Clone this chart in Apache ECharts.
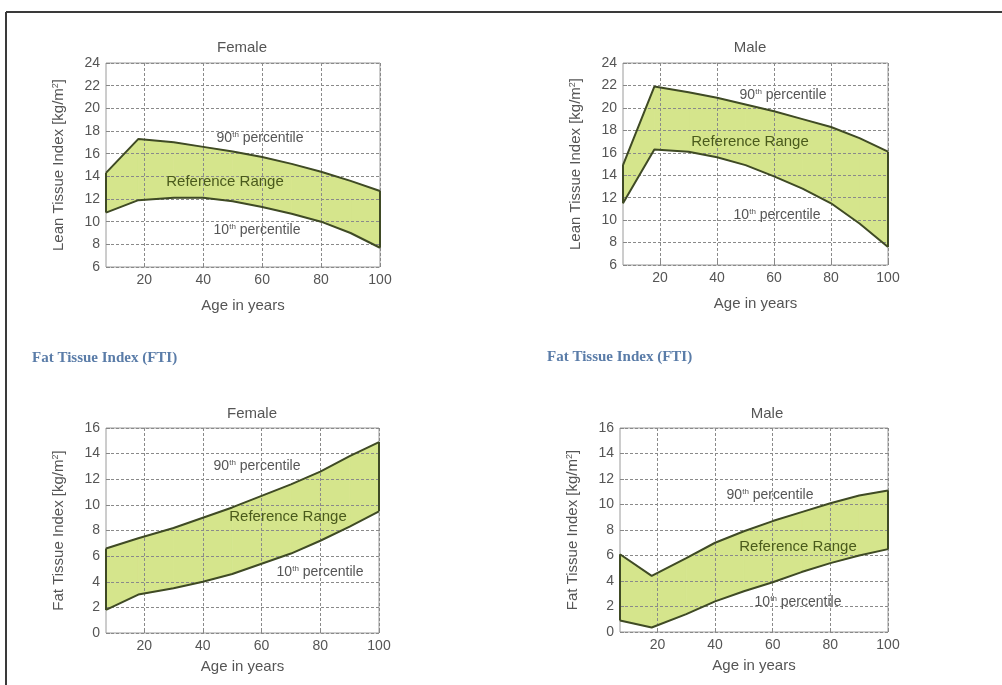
<!DOCTYPE html>
<html>
<head>
<meta charset="utf-8">
<script src="https://cdn.jsdelivr.net/npm/echarts@6/dist/echarts.min.js"></script>
<style>
  html, body { margin: 0; padding: 0; background: #fff; }
  #main { width: 1002px; height: 685px; }
</style>
</head>
<body>
<div id="main"></div>
<script>
// ages (years)
var ages = [7, 18, 30, 40, 50, 60, 70, 80, 90, 100];
var xTicks = [20, 40, 60, 80, 100];

// Lean Tissue Index, kg/m2
var ltiFemaleP90 = [14.3, 17.3, 17.0, 16.6, 16.2, 15.7, 15.1, 14.4, 13.6, 12.7];
var ltiFemaleP10 = [10.8, 11.9, 12.1, 12.1, 11.8, 11.3, 10.7, 10.0, 9.0, 7.7];
var ltiMaleP90 = [14.9, 21.9, 21.4, 20.9, 20.3, 19.7, 19.0, 18.3, 17.3, 16.1];
var ltiMaleP10 = [11.5, 16.3, 16.1, 15.6, 14.9, 13.9, 12.8, 11.5, 9.7, 7.6];

// Fat Tissue Index, kg/m2
var ftiFemaleP90 = [6.6, 7.4, 8.2, 9.0, 9.8, 10.7, 11.6, 12.6, 13.8, 14.9];
var ftiFemaleP10 = [1.8, 3.0, 3.5, 4.0, 4.6, 5.4, 6.2, 7.2, 8.3, 9.5];
var ftiMaleP90 = [6.1, 4.4, 5.8, 7.0, 7.9, 8.7, 9.4, 10.1, 10.7, 11.1];
var ftiMaleP10 = [0.9, 0.35, 1.4, 2.4, 3.2, 3.9, 4.7, 5.4, 6.0, 6.5];

var fillColor = '#d5e58c';
var edgeColor = '#3f4a25';
var txtColor = '#555';
var font = 'Arial, "Liberation Sans", sans-serif';

var panels = [
  { title: 'Female', p90: ltiFemaleP90, p10: ltiFemaleP10, yMin: 6, yMax: 24, xGap: 31,
    yName: 'Lean Tissue Index [kg/m{s|2}]', grid: { left: 106, top: 63, width: 274, height: 204 } },
  { title: 'Male', p90: ltiMaleP90, p10: ltiMaleP10, yMin: 6, yMax: 24, xGap: 31,
    yName: 'Lean Tissue Index [kg/m{s|2}]', grid: { left: 623, top: 63, width: 265, height: 202 } },
  { title: 'Female', p90: ftiFemaleP90, p10: ftiFemaleP10, yMin: 0, yMax: 16, xGap: 26,
    yName: 'Fat Tissue Index [kg/m{s|2}]', grid: { left: 106, top: 428, width: 273, height: 205 } },
  { title: 'Male', p90: ftiMaleP90, p10: ftiMaleP10, yMin: 0, yMax: 16, xGap: 26,
    yName: 'Fat Tissue Index [kg/m{s|2}]', grid: { left: 620, top: 428, width: 268, height: 204 } }
];

function pairs(xs, ys) {
  return xs.map(function (x, i) { return [x, ys[i]]; });
}

// one row per segment of the band: [x0, lo0, hi0, x1, lo1, hi1]
function segments(xs, lo, hi) {
  var out = [];
  for (var i = 0; i < xs.length - 1; i++) {
    out.push([xs[i], lo[i], hi[i], xs[i + 1], lo[i + 1], hi[i + 1]]);
  }
  return out;
}

function renderBand(params, api) {
  var a = api.coord([api.value(0), api.value(2)]);
  var b = api.coord([api.value(3), api.value(5)]);
  var c = api.coord([api.value(3), api.value(4)]);
  var d = api.coord([api.value(0), api.value(1)]);
  return {
    type: 'polygon',
    shape: { points: [a, b, c, d] },
    style: { fill: fillColor, stroke: fillColor, lineWidth: 0.8 }
  };
}

var grids = [], xAxes = [], yAxes = [], series = [];
var gridLine = { show: true, lineStyle: { color: '#8a8a8a', type: [3, 2], width: 1 } };

panels.forEach(function (p, k) {
  grids.push(Object.assign({ show: true, borderColor: '#9a9a9a', borderWidth: 1, backgroundColor: 'transparent' }, p.grid));
  xAxes.push({
    gridIndex: k, type: 'value', min: 7, max: 100, z: 3,
    name: 'Age in years', nameLocation: 'middle', nameGap: p.xGap,
    nameTextStyle: { color: txtColor, fontSize: 15, fontFamily: font },
    axisLine: { show: false },
    axisTick: { show: true, inside: true, length: 4, lineStyle: { color: '#888' }, customValues: xTicks },
    axisLabel: { color: txtColor, fontSize: 14, fontFamily: font, margin: 6, customValues: xTicks },
    splitLine: gridLine
  });
  yAxes.push({
    gridIndex: k, type: 'value', min: p.yMin, max: p.yMax, interval: 2, z: 3,
    name: p.yName, nameLocation: 'middle', nameGap: 39,
    nameTextStyle: { color: txtColor, fontSize: 15, fontFamily: font,
      rich: { s: { fontSize: 9, fontFamily: font, color: txtColor, padding: [0, 0, 7, 0] } } },
    axisLine: { show: false },
    axisTick: { show: true, inside: true, length: 4, lineStyle: { color: '#888' } },
    axisLabel: { color: txtColor, fontSize: 14, fontFamily: font, margin: 6 },
    splitLine: gridLine
  });

  var base = { type: 'line', xAxisIndex: k, yAxisIndex: k, showSymbol: false, symbol: 'none', silent: true };
  series.push({
    type: 'custom', name: 'range' + k, xAxisIndex: k, yAxisIndex: k, silent: true, z: 1,
    renderItem: renderBand, data: segments(ages, p.p10, p.p90),
    encode: { x: [0, 3], y: [1, 2, 4, 5] }
  });
  series.push(Object.assign({}, base, {
    name: 'p90_' + k, data: pairs(ages, p.p90), lineStyle: { color: edgeColor, width: 2 }, z: 5
  }));
  series.push(Object.assign({}, base, {
    name: 'p10_' + k, data: pairs(ages, p.p10), lineStyle: { color: edgeColor, width: 2 }, z: 5
  }));
  var n = ages.length - 1;
  series.push(Object.assign({}, base, {
    name: 'startEdge' + k, data: [[ages[0], p.p10[0]], [ages[0], p.p90[0]]],
    lineStyle: { color: edgeColor, width: 2 }, z: 5
  }));
  series.push(Object.assign({}, base, {
    name: 'endEdge' + k, data: [[ages[n], p.p10[n]], [ages[n], p.p90[n]]],
    lineStyle: { color: edgeColor, width: 2 }, z: 5
  }));
});

function label(x, y, text, style) {
  return {
    type: 'text', x: x, y: y, z: 10,
    style: Object.assign({
      text: text, fill: txtColor, font: '14px ' + font, align: 'center', verticalAlign: 'middle',
      rich: { s: { fontSize: 8, fontFamily: font, fill: txtColor, padding: [0, 0, 7, 0] } }
    }, style || {})
  };
}
var titleStyle = { font: '15px ' + font };
var refStyle = { fill: '#4a5a1c', font: '15px ' + font };
var ftiStyle = { fill: '#5a7ca8', font: 'bold 15px "Liberation Serif"', align: 'left' };

var graphics = [
  // page frame
  { type: 'line', shape: { x1: 6, y1: 12, x2: 1002, y2: 12 }, style: { stroke: '#3a3a3a', lineWidth: 2 } },
  { type: 'line', shape: { x1: 6, y1: 12, x2: 6, y2: 685 }, style: { stroke: '#3a3a3a', lineWidth: 2 } },
  // panel titles
  label(242, 48, 'Female', titleStyle), label(750, 48, 'Male', titleStyle),
  label(252, 414, 'Female', titleStyle), label(767, 414, 'Male', titleStyle),
  // section labels
  label(32, 358, 'Fat Tissue Index (FTI)', ftiStyle),
  label(547, 357, 'Fat Tissue Index (FTI)', ftiStyle),
  // LTI female
  label(260, 138, '90{s|th} percentile'), label(225, 182, 'Reference Range', refStyle), label(257, 230, '10{s|th} percentile'),
  // LTI male
  label(783, 95, '90{s|th} percentile'), label(750, 142, 'Reference Range', refStyle), label(777, 215, '10{s|th} percentile'),
  // FTI female
  label(257, 466, '90{s|th} percentile'), label(288, 517, 'Reference Range', refStyle), label(320, 572, '10{s|th} percentile'),
  // FTI male
  label(770, 495, '90{s|th} percentile'), label(798, 547, 'Reference Range', refStyle), label(798, 602, '10{s|th} percentile')
];

var myChart = echarts.init(document.getElementById('main'));
myChart.setOption({
  animation: false,
  grid: grids,
  xAxis: xAxes,
  yAxis: yAxes,
  series: series,
  graphic: graphics
});
</script>
</body>
</html>
